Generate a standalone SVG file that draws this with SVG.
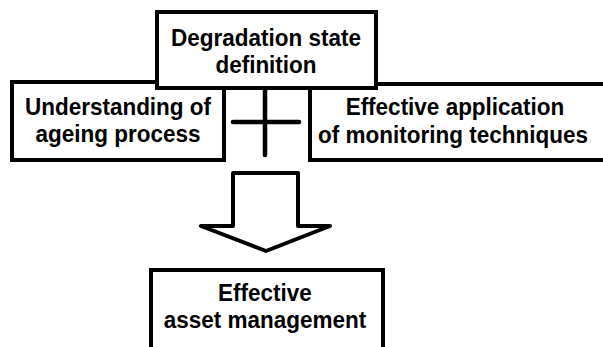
<svg xmlns="http://www.w3.org/2000/svg" width="603" height="347" viewBox="0 0 603 347">
<style>
.box{fill:#fff;stroke:#000;stroke-width:4}
.t{font-family:"Liberation Sans",Arial,sans-serif;font-weight:bold;font-size:22.5px;fill:#000;text-anchor:middle}
.ln{stroke:#000;stroke-width:4.5;stroke-linecap:round;fill:none}
</style>
<rect width="603" height="347" fill="#fff"/>
<g id="left">
<rect class="box" x="12" y="82" width="212" height="78"/>
<g transform="scale(1,1.1)">
<text class="t" x="118" y="104.5">Understanding of</text>
<text class="t" x="118" y="129.1">ageing process</text>
</g>
</g>
<g id="right">
<rect class="box" x="310" y="84" width="300" height="76"/>
<g transform="scale(1,1.1)">
<text class="t" x="455" y="104.5">Effective application</text>
<text class="t" x="453" y="130">of monitoring techniques</text>
</g>
</g>
<g id="top">
<rect class="box" x="157" y="12" width="219" height="76"/>
<g transform="scale(1,1.1)">
<text class="t" x="266" y="41.8">Degradation state</text>
<text class="t" x="266" y="66.4">definition</text>
</g>
</g>
<g id="connectors">
<line class="ln" x1="265" y1="90" x2="265" y2="155"/>
<line class="ln" x1="233" y1="122" x2="299" y2="122"/>
<path d="M233,173 L298,173 L298,226 L330,226 L266,251 L201,226 L233,226 Z" fill="#fff" stroke="#000" stroke-width="4" stroke-linejoin="round"/>
</g>
<g id="bottom">
<rect class="box" x="151" y="270" width="232" height="90"/>
<g transform="scale(1,1.1)">
<text class="t" x="265" y="274">Effective</text>
<text class="t" x="265" y="298.2">asset management</text>
</g>
</g>
</svg>
